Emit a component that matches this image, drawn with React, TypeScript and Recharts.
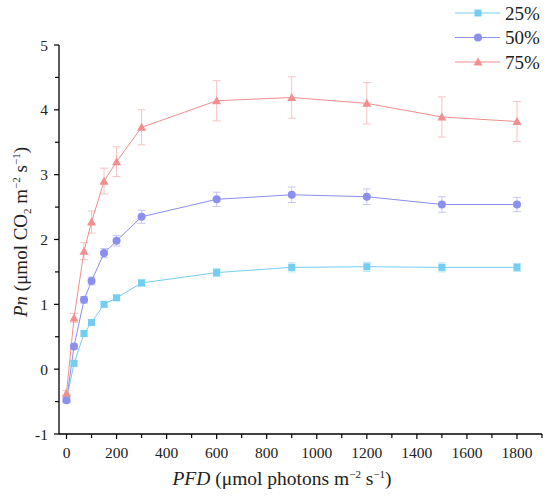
import { LineChart, Line, XAxis, YAxis, ErrorBar } from 'recharts';

const pfd = [0, 30, 70, 100, 150, 200, 300, 600, 900, 1200, 1500, 1800];

const pn25 = [-0.47, 0.09, 0.55, 0.72, 1.0, 1.1, 1.33, 1.49, 1.57, 1.58, 1.57, 1.57];
const err25 = [0.03, 0.03, 0.04, 0.04, 0.04, 0.04, 0.05, 0.06, 0.07, 0.07, 0.07, 0.06];

const pn50 = [-0.48, 0.35, 1.07, 1.36, 1.79, 1.98, 2.35, 2.62, 2.69, 2.66, 2.54, 2.54];
const err50 = [0.03, 0.04, 0.05, 0.06, 0.07, 0.08, 0.1, 0.11, 0.12, 0.12, 0.12, 0.11];

const pn75 = [-0.37, 0.79, 1.82, 2.27, 2.9, 3.2, 3.73, 4.14, 4.19, 4.1, 3.89, 3.82];
const err75 = [0.04, 0.07, 0.13, 0.17, 0.2, 0.23, 0.27, 0.31, 0.32, 0.32, 0.31, 0.31];

const xTicks = [0, 100, 200, 300, 400, 500, 600, 700, 800, 900, 1000, 1100, 1200, 1300, 1400, 1500, 1600, 1700, 1800, 1900];
const yTicks = [-1, -0.5, 0, 0.5, 1, 1.5, 2, 2.5, 3, 3.5, 4, 4.5, 5];

const series = [
  { name: '25%', key: 'p25', err: 'e25', color: '#74cdf2', errColor: '#b5e4f7', shape: 'square' },
  { name: '50%', key: 'p50', err: 'e50', color: '#8a8ff0', errColor: '#c4c6f5', shape: 'circle' },
  { name: '75%', key: 'p75', err: 'e75', color: '#f28e8e', errColor: '#f6c3c3', shape: 'triangle' },
];

const data = pfd.map((x, i) => ({
  x,
  p25: pn25[i], e25: err25[i],
  p50: pn50[i], e50: err50[i],
  p75: pn75[i], e75: err75[i],
}));

const FONT = '"Liberation Serif", "Times New Roman", "DejaVu Serif", serif';
const txt = { fontFamily: FONT };

const Marker = ({ cx, cy, fill, shape }: any) => {
  if (cx == null || cy == null) return null;
  if (shape === 'square') return <rect x={cx - 3.5} y={cy - 3.5} width={7} height={7} fill={fill} />;
  if (shape === 'circle') return <circle cx={cx} cy={cy} r={4} fill={fill} />;
  return <polygon points={`${cx},${cy - 4.5} ${cx - 4.5},${cy + 3.5} ${cx + 4.5},${cy + 3.5}`} fill={fill} />;
};

const XTick = ({ x, y, payload }: any) => {
  const v = payload.value;
  const major = v % 200 === 0;
  return (
    <g>
      <line x1={x} y1={y} x2={x} y2={y + (major ? 5 : 4)} stroke="#000" strokeWidth={1.2} />
      {major && (
        <text x={x} y={y + 24} textAnchor="middle" fontSize={15.5} style={txt} fill="#222">{v}</text>
      )}
    </g>
  );
};

const YTick = ({ x, y, payload }: any) => {
  const v = payload.value;
  const major = Number.isInteger(v);
  return (
    <g>
      <line x1={x - (major ? 5 : 4)} y1={y} x2={x} y2={y} stroke="#000" strokeWidth={1.2} />
      {major && (
        <text x={x - 11} y={y + 5.5} textAnchor="end" fontSize={15.5} style={txt} fill="#222">{v}</text>
      )}
    </g>
  );
};

const LegendBox = () => (
  <svg width={100} height={75} style={{ position: 'absolute', left: 450, top: 0 }}>
    {series.map((s, i) => {
      const y = 13 + i * 24.5;
      return (
        <g key={s.name}>
          <line x1={5} y1={y} x2={50} y2={y} stroke={s.color} strokeWidth={1} />
          <Marker cx={28} cy={y} fill={s.color} shape={s.shape} />
          <text x={55} y={y + 6.5} fontSize={19} style={txt} fill="#222">{s.name}</text>
        </g>
      );
    })}
  </svg>
);

export default function App() {
  return (
    <div style={{ position: 'absolute', left: 0, top: 0, width: 550, height: 496, background: '#fff', fontFamily: FONT }}>
      <LineChart width={550} height={496} data={data} margin={{ top: 45, right: 8, left: 29, bottom: 22 }}>
        <XAxis
          dataKey="x"
          type="number"
          domain={[-30, 1900]}
          ticks={xTicks}
          interval={0}
          tickSize={0}
          tickMargin={0}
          tickLine={false}
          tick={<XTick />}
          height={40}
          axisLine={{ stroke: '#000', strokeWidth: 1.3 }}
          label={() => (
            <text x={282} y={485} textAnchor="middle" fontSize={19.5} style={txt} fill="#222">
              <tspan fontStyle="italic">PFD</tspan>
              <tspan> (μmol photons m</tspan>
              <tspan fontSize={11} dy={-7}>−2</tspan>
              <tspan dy={7}> s</tspan>
              <tspan fontSize={11} dy={-7}>−1</tspan>
              <tspan dy={7}>)</tspan>
            </text>
          )}
        />
        <YAxis
          type="number"
          domain={[-1, 5]}
          ticks={yTicks}
          interval={0}
          tickSize={0}
          tickMargin={0}
          tickLine={false}
          tick={<YTick />}
          width={30}
          axisLine={{ stroke: '#000', strokeWidth: 1.3 }}
          label={() => (
            <text
              x={27}
              y={232}
              transform="rotate(-90 27 232)"
              textAnchor="middle"
              fontSize={19}
              style={txt}
              fill="#222"
            >
              <tspan fontStyle="italic">Pn</tspan>
              <tspan> (μmol CO</tspan>
              <tspan fontSize={11} dy={4}>2</tspan>
              <tspan dy={-4}> m</tspan>
              <tspan fontSize={11} dy={-7}>−2</tspan>
              <tspan dy={7}> s</tspan>
              <tspan fontSize={11} dy={-7}>−1</tspan>
              <tspan dy={7}>)</tspan>
            </text>
          )}
        />
        {series.map((s) => (
          <Line
            key={s.key}
            dataKey={s.key}
            name={s.name}
            stroke={s.color}
            strokeWidth={1}
            isAnimationActive={false}
            dot={(p: any) => <Marker key={`${s.key}-${p.index}`} cx={p.cx} cy={p.cy} fill={s.color} shape={s.shape} />}
            activeDot={false}
          >
            <ErrorBar dataKey={s.err} width={4} stroke={s.errColor} strokeWidth={1} direction="y" />
          </Line>
        ))}
      </LineChart>
      <LegendBox />
    </div>
  );
}
